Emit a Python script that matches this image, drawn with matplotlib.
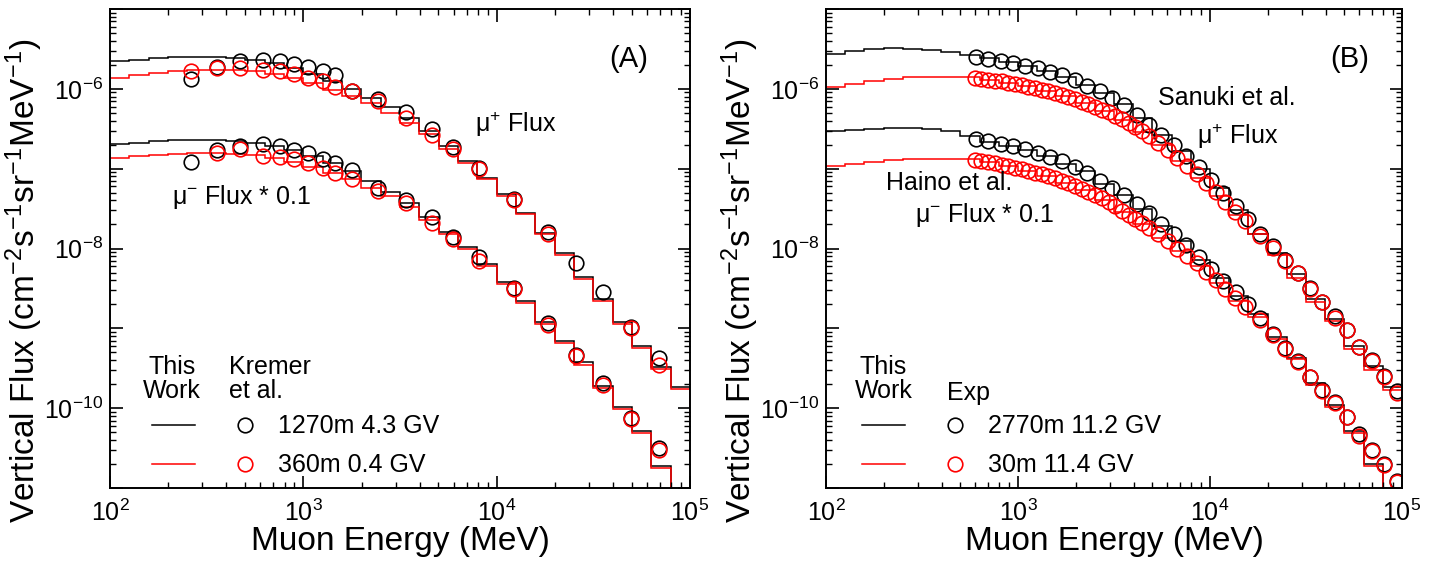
import numpy as np
import matplotlib
matplotlib.use("Agg")
import matplotlib.pyplot as plt
from matplotlib.ticker import LogLocator, FuncFormatter, NullFormatter
from matplotlib.lines import Line2D
from matplotlib.legend_handler import HandlerTuple

plt.rcParams['font.family'] = ['Liberation Sans', 'DejaVu Sans']
plt.rcParams['mathtext.fontset'] = 'custom'
plt.rcParams['mathtext.rm'] = 'Liberation Sans'
plt.rcParams['mathtext.it'] = 'Liberation Sans:italic'
plt.rcParams['mathtext.bf'] = 'Liberation Sans:bold'

UNIT = 1e-6  # all flux values below are in units of 1e-6 cm^-2 s^-1 sr^-1 MeV^-1

# ---------------- bin edges of the simulation histograms (MeV) ----------------
bin_edges = [100, 125.9, 158.5, 199.5, 251.2, 316.2, 398.1, 501.2, 631.0, 794.3,
             1000, 1258.9, 1584.9, 1995.3, 2511.9, 3162.3, 3981.1, 5011.9, 6309.6, 7943.3,
             10000, 12589, 15849, 19953, 25119, 31623, 39811, 50119, 63096, 79433,
             100000, 125893]

# ---------------- Panel A : This work ----------------
A_mup_1270 = [2.22, 2.33, 2.42, 2.49, 2.51, 2.51, 2.44, 2.33, 2.11, 1.83,
              1.55, 1.25, 1.00, 0.77, 0.596, 0.434, 0.296, 0.192, 0.125, 0.0773,
              0.0478, 0.0282, 0.0158, 0.0087, 0.00434, 0.00230, 0.00119, 0.000596, 0.000325, 0.000183]
A_mup_360 = [1.37, 1.47, 1.58, 1.66, 1.71, 1.73, 1.71, 1.66, 1.55, 1.37,
             1.17, 0.98, 0.825, 0.656, 0.501, 0.376, 0.269, 0.178, 0.119, 0.075,
             0.0455, 0.027, 0.0154, 0.0082, 0.0041, 0.0022, 0.00112, 0.00056, 0.00031, 0.000173,
             0.000073]
A_mum_1270 = [0.202, 0.211, 0.220, 0.226, 0.228, 0.226, 0.220, 0.207, 0.192, 0.171,
              0.144, 0.119, 0.093, 0.070, 0.051, 0.037, 0.0245, 0.016, 0.0103, 0.0064,
              0.00376, 0.00218, 0.00119, 0.000688, 0.000376, 0.000188, 0.000103, 0.0000516, 0.0000188, 1e-6]
A_mum_360 = [0.137, 0.144, 0.150, 0.154, 0.155, 0.155, 0.153, 0.147, 0.137, 0.121,
             0.105, 0.089, 0.074, 0.058, 0.045, 0.033, 0.023, 0.015, 0.0098, 0.0060,
             0.0036, 0.0021, 0.00112, 0.00065, 0.00035, 0.000178, 0.000097, 0.000049, 0.0000178, 1e-6]

# ---------------- Panel A : Kremer et al. ----------------
kremer_E = [263, 357, 469, 617, 760, 900, 1056, 1267, 1453, 1784, 2432, 3379, 4605,
            5972, 8147, 12281, 18509, 25700, 35660, 49770, 69500]
kremer_mup_1270 = [1.347, 1.865, 2.26, 2.33, 2.22, 2.05, 1.865, 1.69, 1.51, 0.935, 0.736, 0.511, 0.310,
                   0.187, 0.103, 0.0422, 0.0162, 0.0065, 0.00282, 0.00103, 0.00043]
kremer_mup_360 = [1.66, 1.80, 1.80, 1.71, 1.66, 1.55, 1.37, 1.25, 1.06, 0.935, 0.70, 0.434, 0.261,
                  0.174, 0.098, 0.041, 0.015, np.nan, np.nan, 0.00100, 0.00035]
kremer_mum_1270 = [0.121, 0.171, 0.192, 0.202, 0.192, 0.171, 0.155, 0.133, 0.119, 0.096, 0.058, 0.040, 0.0245,
                   0.0141, 0.0079, 0.0032, 0.00115, 0.00046, 0.000205, 0.000075, 0.000032]
kremer_mum_360 = [np.nan, 0.155, 0.174, 0.144, 0.141, 0.131, 0.119, 0.103, 0.089, 0.074, 0.0527, 0.037, 0.021,
                  0.0133, 0.0070, 0.0031, 0.0011, 0.00045, 0.000195, 0.000073, 0.000030]

# ---------------- Panel B : This work ----------------
B_mup_2770 = [2.72, 3.01, 3.16, 3.22, 3.20, 3.10, 2.90, 2.66, 2.40, 2.14,
              1.93, 1.67, 1.39, 1.12, 0.879, 0.640, 0.428, 0.264, 0.167, 0.100,
              0.0579, 0.0307, 0.0150, 0.0089, 0.00473, 0.00230, 0.00130, 0.000596, 0.000335, 0.000183]
B_mup_30 = [1.04, 1.14, 1.24, 1.33, 1.39, 1.42, 1.42, 1.41, 1.30, 1.195,
            1.07, 0.944, 0.806, 0.661, 0.531, 0.410, 0.287, 0.197, 0.126, 0.0774,
            0.0459, 0.0260, 0.0150, 0.0082, 0.0043, 0.00211, 0.00122, 0.00055, 0.000305, 0.00017,
            0.000068]
B_mum_2770 = [0.293, 0.307, 0.316, 0.325, 0.326, 0.318, 0.300, 0.258, 0.2175, 0.195,
              0.1727, 0.146, 0.1155, 0.0924, 0.0649, 0.0467, 0.0312, 0.0194, 0.0124, 0.00708,
              0.00422, 0.00257, 0.00150, 0.00077, 0.00043, 0.000205, 0.000109, 0.000052, 0.000020, 1e-6]
B_mum_30 = [0.107, 0.116, 0.122, 0.128, 0.131, 0.132, 0.132, 0.131, 0.1195, 0.1075,
            0.0939, 0.0818, 0.0667, 0.0537, 0.0410, 0.0290, 0.0205, 0.0137, 0.00935, 0.00598,
            0.00365, 0.00218, 0.00138, 0.00073, 0.00041, 0.000195, 0.000103, 0.000049, 0.0000188, 1e-6]

# ---------------- Panel B : experiments ----------------
sanuki_E = [603, 699, 811, 940, 1091, 1265, 1468, 1702, 1975, 2291, 2658, 3083, 3577, 4149, 4813,
            5583, 6477, 7514, 8716, 10112, 11731, 13609, 15786, 18313, 21244, 24645, 28590, 33166,
            38474, 44632, 51775, 60062, 69675, 80827, 93764]
sanuki_mup = [2.53, 2.35, 2.22, 2.08, 1.95, 1.80, 1.63, 1.49, 1.28, 1.10, 0.944, 0.772, 0.631, 0.473,
              0.355, 0.266, 0.200, 0.146, 0.106, 0.0731, 0.0501, 0.0344, 0.0231, 0.0154, 0.0106,
              0.00708, 0.00487, 0.00316, 0.00211, 0.00141, 0.00094, 0.00059, 0.000398, 0.000251, 0.000163]
sanuki_mum = [0.237, 0.219, 0.204, 0.190, 0.177, 0.1594, 0.1413, 0.1230, 0.1059, 0.0891, 0.0708, 0.0579,
              0.0473, 0.0365, 0.0282, 0.0205, 0.0150, 0.0112, 0.00772, 0.00546, 0.00387, 0.00282,
              0.00200, 0.00133, 0.000841, 0.000562, 0.000387, 0.000244, 0.000168, 0.000119,
              0.0000772, 0.0000473, 0.0000299, 0.0000200, 0.0000122]
haino_E = [595.5, 645, 699, 758, 821, 889, 963, 1044, 1131, 1226, 1328, 1439, 1559, 1690, 1830, 1984,
           2149, 2329, 2523, 2734, 2963, 3210, 3478, 3770, 4083, 4425, 4794, 5378, 6033, 6768, 7592,
           8518, 9555, 10720, 12027, 13490, 15133, 18313, 21244, 24645, 28590, 33166, 38474, 44632,
           51775, 60062, 69675, 80827, 93764]
haino_mup = [1.38, 1.34, 1.30, 1.27, 1.24, 1.195, 1.148, 1.109, 1.062, 1.02, 0.977, 0.933, 0.879, 0.829,
             0.794, 0.739, 0.688, 0.638, 0.591, 0.546, 0.507, 0.460, 0.417, 0.370, 0.330, 0.293, 0.255,
             0.211, 0.173, 0.137, 0.109, 0.0853, 0.0668, 0.0516, 0.0387, 0.0290, 0.0218,
             0.01454, 0.01029, 0.00688, 0.00487, 0.00307, 0.00211, 0.00133, 0.000944, 0.000579,
             0.000387, 0.000244, 0.000154]
haino_mum = [0.1277, 0.1241, 0.1202, 0.1164, 0.1122, 0.1078, 0.1029, 0.0980, 0.0936, 0.0894, 0.0853,
             0.0808, 0.0759, 0.0702, 0.0655, 0.0610, 0.0562, 0.0516, 0.0473, 0.0428, 0.0387, 0.0345,
             0.0299, 0.0262, 0.0234, 0.0208, 0.0183, 0.0150, 0.01224, 0.0100, 0.00806, 0.00649,
             0.00508, 0.00398, 0.00312, 0.00237, 0.00183, 0.00126, 0.000818, 0.000546, 0.000376,
             0.000244, 0.000163, 0.000115, 0.0000772, 0.0000447, 0.0000290, 0.0000194, 0.0000119]

# ---------------- drawing ----------------
W, H = 1436, 567
fig = plt.figure(figsize=(W / 100, H / 100), dpi=100)
axA = fig.add_axes([110 / W, 79 / H, 580 / W, 479 / H])
axB = fig.add_axes([826 / W, 79 / H, 576 / W, 479 / H])

LW = 1.1
MS = 10.5
MEW = 1.2
FS_TICK = 18
FS_LAB = 24
FS_TXT = 18
XLIM = (1e2, 1e5)
YLIM = (1e-11, 1e-5)


def stairs(ax, vals, color):
    v = np.asarray(vals) * UNIT
    e = np.asarray(bin_edges[:len(v) + 1])
    ax.stairs(v, e, color=color, lw=LW, baseline=None)


def circles(ax, x, y, color):
    ax.plot(x, np.asarray(y) * UNIT, ls='none', marker='o', ms=MS, mfc='none', mec=color, mew=MEW)


def even_only(val, pos):
    if val < YLIM[0] * 0.999 or val > YLIM[1] * 1.001:
        return ''
    e = int(round(np.log10(val)))
    if e % 2 != 0:
        return ''
    return r'$\mathregular{10^{%d}}$' % e


def xfmt(val, pos):
    if val < XLIM[0] * 0.999 or val > XLIM[1] * 1.001:
        return ''
    e = int(round(np.log10(val)))
    return r'$\mathregular{10^{%d}}$' % e


def style(ax):
    ax.set_xscale('log')
    ax.set_yscale('log')
    ax.set_xlim(*XLIM)
    ax.set_ylim(*YLIM)
    ax.xaxis.set_major_locator(LogLocator(base=10, numticks=20))
    ax.xaxis.set_minor_locator(LogLocator(base=10, subs=np.arange(2, 10), numticks=50))
    ax.yaxis.set_major_locator(LogLocator(base=10, numticks=20))
    ax.yaxis.set_minor_locator(LogLocator(base=10, subs=np.arange(2, 10), numticks=50))
    ax.xaxis.set_major_formatter(FuncFormatter(xfmt))
    ax.yaxis.set_major_formatter(FuncFormatter(even_only))
    ax.xaxis.set_minor_formatter(NullFormatter())
    ax.yaxis.set_minor_formatter(NullFormatter())
    ax.tick_params(which='both', direction='in', top=True, right=True, labelsize=FS_TICK)
    ax.tick_params(which='major', length=9, width=1.2)
    ax.tick_params(which='minor', length=4.5, width=1.0)
    ax.tick_params(axis='x', pad=8)
    ax.tick_params(axis='y', pad=5)
    for s in ax.spines.values():
        s.set_linewidth(1.4)
    ax.set_xlabel('Muon Energy (MeV)', fontsize=FS_LAB, labelpad=0)
    ax.set_ylabel(r'Vertical Flux (cm$^{-2}$s$^{-1}$sr$^{-1}$MeV$^{-1}$)', fontsize=FS_LAB)
    ax.yaxis.set_label_coords(-0.112, 0.432)


def legend(ax, lab1, lab2, x0):
    h1 = (Line2D([], [], color='black', lw=LW),
          Line2D([], [], ls='none', marker='o', ms=MS, mfc='none', mec='black', mew=MEW))
    h2 = (Line2D([], [], color='red', lw=LW),
          Line2D([], [], ls='none', marker='o', ms=MS, mfc='none', mec='red', mew=MEW))
    ax.legend([h1, h2], [lab1, lab2], handler_map={tuple: HandlerTuple(ndivide=2, pad=1.15)},
              loc='lower left', bbox_to_anchor=(x0, 0.022), frameon=False, fontsize=FS_TXT,
              handlelength=4.6, handletextpad=0.45, labelspacing=0.6, borderpad=0,
              borderaxespad=0)


# Panel A
stairs(axA, A_mup_1270, 'black')
stairs(axA, A_mum_1270, 'black')
stairs(axA, A_mup_360, 'red')
stairs(axA, A_mum_360, 'red')
circles(axA, kremer_E, kremer_mup_1270, 'black')
circles(axA, kremer_E, kremer_mum_1270, 'black')
circles(axA, kremer_E, kremer_mup_360, 'red')
circles(axA, kremer_E, kremer_mum_360, 'red')
style(axA)
axA.text(0.895, 0.895, '(A)', transform=axA.transAxes, fontsize=21, ha='center', va='center')
axA.text(0.70, 0.76, 'μ$^{+}$ Flux', transform=axA.transAxes, fontsize=FS_TXT, ha='center', va='center')
axA.text(0.227, 0.607, 'μ$^{-}$ Flux * 0.1', transform=axA.transAxes, fontsize=FS_TXT, ha='center', va='center')
axA.text(0.107, 0.228, 'This\nWork', transform=axA.transAxes, fontsize=FS_TXT, ha='center', va='center',
         multialignment='center', linespacing=1.0)
axA.text(0.205, 0.228, 'Kremer\net al.', transform=axA.transAxes, fontsize=FS_TXT, ha='left', va='center',
         multialignment='left', linespacing=1.0)
legend(axA, '1270m 4.3 GV', '360m 0.4 GV', 0.072)

# Panel B
stairs(axB, B_mup_2770, 'black')
stairs(axB, B_mum_2770, 'black')
stairs(axB, B_mup_30, 'red')
stairs(axB, B_mum_30, 'red')
circles(axB, sanuki_E, sanuki_mup, 'black')
circles(axB, sanuki_E, sanuki_mum, 'black')
circles(axB, haino_E, haino_mup, 'red')
circles(axB, haino_E, haino_mum, 'red')
style(axB)
axB.text(0.91, 0.895, '(B)', transform=axB.transAxes, fontsize=21, ha='center', va='center')
axB.text(0.695, 0.815, 'Sanuki et al.', transform=axB.transAxes, fontsize=FS_TXT, ha='center', va='center')
axB.text(0.715, 0.735, 'μ$^{+}$ Flux', transform=axB.transAxes, fontsize=FS_TXT, ha='center', va='center')
axB.text(0.213, 0.636, 'Haino et al.', transform=axB.transAxes, fontsize=FS_TXT, ha='center', va='center')
axB.text(0.275, 0.57, 'μ$^{-}$ Flux * 0.1', transform=axB.transAxes, fontsize=FS_TXT, ha='center', va='center')
axB.text(0.10, 0.228, 'This\nWork', transform=axB.transAxes, fontsize=FS_TXT, ha='center', va='center',
         multialignment='center', linespacing=1.0)
axB.text(0.21, 0.198, 'Exp', transform=axB.transAxes, fontsize=FS_TXT, ha='left', va='center')
legend(axB, '2770m 11.2 GV', '30m 11.4 GV', 0.0625)

fig.savefig('out.png', dpi=100)
